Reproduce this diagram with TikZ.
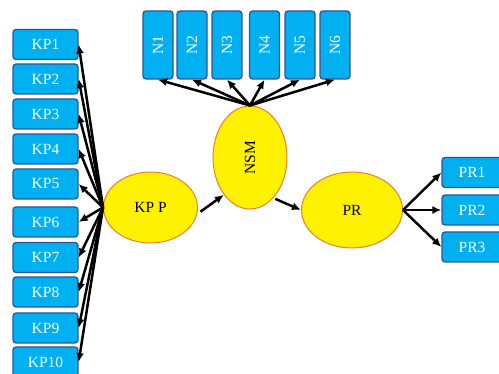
\documentclass[tikz,border=0pt]{standalone}
\usepackage{fontspec}
\setmainfont{Liberation Serif}
\usetikzlibrary{shapes.geometric,arrows.meta}
\definecolor{boxblue}{HTML}{00B0F0}
\definecolor{boxline}{HTML}{2F5597}
\definecolor{ovalline}{HTML}{ED7D31}

\begin{document}
\begin{tikzpicture}[x=1pt,y=-1pt,
  kpbox/.style={draw=boxline,line width=1.3pt,fill=boxblue,rounded corners=3pt,
    text=white,font=\fontsize{15.5}{18}\selectfont,inner sep=0pt,
    minimum width=65pt,minimum height=30pt},
  nbox/.style={kpbox,minimum width=30pt,minimum height=68pt},
  prbox/.style={kpbox,minimum width=60pt},
  oval/.style={ellipse,draw=ovalline,line width=1pt,fill=yellow,inner sep=0pt,
    font=\fontsize{15.5}{18}\selectfont},
  arr/.style={line width=2.5pt,-{Latex[length=9pt,width=8pt]}}]
\useasboundingbox (0,0) rectangle (499,374);
%% boxes KP;
\node[kpbox] (kp1) at (45.5,44.5) {KP1};
\node[kpbox] (kp2) at (45.5,79) {KP2};
\node[kpbox] (kp3) at (45.5,114) {KP3};
\node[kpbox] (kp4) at (45.5,149) {KP4};
\node[kpbox] (kp5) at (45.5,184) {KP5};
\node[kpbox] (kp6) at (45.5,222) {KP6};
\node[kpbox] (kp7) at (45.5,257.5) {KP7};
\node[kpbox] (kp8) at (45.5,292) {KP8};
\node[kpbox] (kp9) at (45.5,328) {KP9};
\node[kpbox] (kp10) at (45.5,362) {KP10};
%% boxes N;
\node[nbox] (n1) at (158,45) {\rotatebox{90}{N1}};
\node[nbox] (n2) at (192,45) {\rotatebox{90}{N2}};
\node[nbox] (n3) at (227,45) {\rotatebox{90}{N3}};
\node[nbox] (n4) at (264.5,45) {\rotatebox{90}{N4}};
\node[nbox] (n5) at (300,45) {\rotatebox{90}{N5}};
\node[nbox] (n6) at (335,45) {\rotatebox{90}{N6}};
%% boxes PR;
\node[prbox] (pr1) at (472,172.5) {PR1};
\node[prbox] (pr2) at (472,210) {PR2};
\node[prbox] (pr3) at (472,247) {PR3};
%% ovals;
\node[oval,minimum width=94pt,minimum height=71pt] (kpp) at (150.5,207.5) {KP P};
\node[oval,minimum width=74pt,minimum height=103pt] (nsm) at (250,157.5) {\rotatebox{90}{NSM}};
\node[oval,minimum width=101pt,minimum height=76pt] (pr) at (352,210) {PR};
%% arrows;
\draw[arr] (kpp.west) -- (kp1.east);
\draw[arr] (kpp.west) -- (kp2.east);
\draw[arr] (kpp.west) -- (kp3.east);
\draw[arr] (kpp.west) -- (kp4.east);
\draw[arr] (kpp.west) -- (kp5.east);
\draw[arr] (kpp.west) -- (kp6.east);
\draw[arr] (kpp.west) -- (kp7.east);
\draw[arr] (kpp.west) -- (kp8.east);
\draw[arr] (kpp.west) -- (kp9.east);
\draw[arr] (kpp.west) -- (kp10.east);
\draw[arr] (nsm.north) -- (n1.south);
\draw[arr] (nsm.north) -- (n2.south);
\draw[arr] (nsm.north) -- (n3.south);
\draw[arr] (nsm.north) -- (n4.south);
\draw[arr] (nsm.north) -- (n5.south);
\draw[arr] (nsm.north) -- (n6.south);
\draw[arr,shorten <=4pt] (kpp.-8) -- (nsm.235);
\draw[arr,shorten <=2pt] (nsm.-60) -- (pr.west);
\draw[arr] (pr.east) -- (pr1.west);
\draw[arr] (pr.east) -- (pr2.west);
\draw[arr] (pr.east) -- (pr3.west);

\end{tikzpicture}
\end{document}
